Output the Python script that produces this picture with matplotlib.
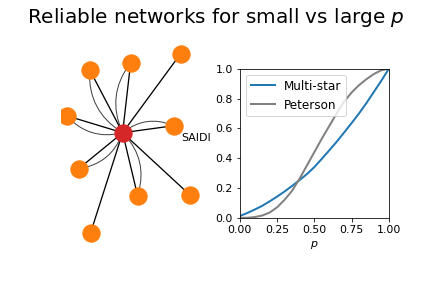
import numpy as np
import matplotlib.pyplot as plt
from matplotlib.patches import FancyArrowPatch

plt.rcParams["font.size"] = 11

# %% données
# positions des feuilles (repère centré sur le hub)
leaf_x = [58, 8, -33, -56, 51, -44, 15, 67, -32]
leaf_y = [79, 70, 63, 17, 7, -36, -63, -62, -100]
# nombre d'arêtes entre le hub et chaque feuille
n_edges = [1, 2, 2, 2, 2, 2, 2, 1, 1]
hub = (0, 0)

p = [0.0, 0.05, 0.1, 0.15, 0.2, 0.25, 0.3, 0.35, 0.4, 0.45, 0.5,
     0.55, 0.6, 0.65, 0.7, 0.75, 0.8, 0.85, 0.9, 0.95, 1.0]
multi_star = [0.012, 0.032, 0.055, 0.08, 0.11, 0.142, 0.176, 0.213, 0.252, 0.293, 0.34,
              0.395, 0.452, 0.51, 0.572, 0.635, 0.70, 0.77, 0.845, 0.92, 1.0]
peterson = [0.0, 0.0, 0.005, 0.015, 0.035, 0.07, 0.12, 0.18, 0.26, 0.35, 0.44,
            0.53, 0.615, 0.70, 0.78, 0.84, 0.89, 0.93, 0.965, 0.99, 1.0]

# %% figure
fig, (ax0, ax1) = plt.subplots(1, 2, figsize=(6, 4), dpi=72)
fig.subplots_adjust(left=0.141, right=0.9, bottom=0.12, top=0.885)
fig.suptitle("Reliable networks for small vs large $p$", fontsize=20)

# graphe
for x, y, k in zip(leaf_x, leaf_y, n_edges):
    ax0.plot([hub[0], x], [hub[1], y], color="k", lw=1.3, zorder=1)
    if k > 1:
        arc = FancyArrowPatch(hub, (x, y), arrowstyle="-",
                              connectionstyle="arc3,rad=-0.3",
                              color="0.25", lw=1, zorder=1)
        ax0.add_patch(arc)
ax0.scatter(leaf_x, leaf_y, s=300, color="tab:orange", zorder=2)
ax0.scatter([hub[0]], [hub[1]], s=300, color="tab:red", zorder=3)
ax0.set_xlim(-61.7, 87.3)
ax0.set_ylim(-120.7, 99.6)
ax0.axis("off")

# courbes de fiabilité
ax1.plot(p, multi_star, color="tab:blue", lw=2, label="Multi-star")
ax1.plot(p, peterson, color="gray", lw=2, label="Peterson")
ax1.set_xlim(0, 1)
ax1.set_ylim(0, 1)
ax1.set_xticks([0, 0.25, 0.5, 0.75, 1.0])
ax1.set_aspect("equal")
ax1.set_xlabel("$p$")
ax1.set_ylabel("SAIDI", rotation=0, ha="right")
ax1.legend(loc="upper left", fontsize=12)

fig.savefig("out.png")
